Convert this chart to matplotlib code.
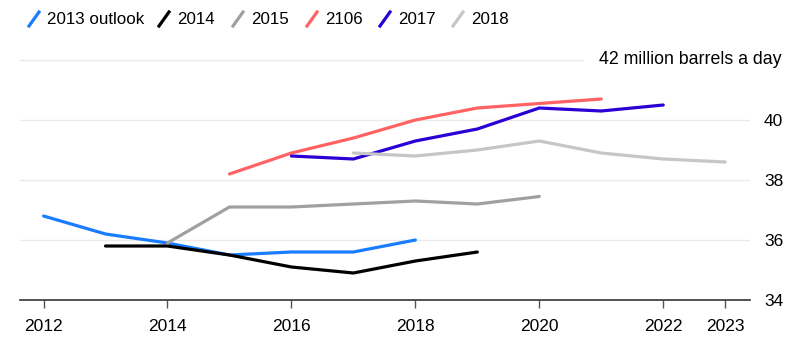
import matplotlib.pyplot as plt
from matplotlib.lines import Line2D

plt.rcParams['font.family'] = ['Liberation Sans', 'DejaVu Sans']

# forecast vintages (million barrels a day)
years_2013 = [2012, 2013, 2014, 2015, 2016, 2017, 2018]
vals_2013 = [36.8, 36.2, 35.9, 35.5, 35.6, 35.6, 36.0]

years_2014 = [2013, 2014, 2015, 2016, 2017, 2018, 2019]
vals_2014 = [35.8, 35.8, 35.5, 35.1, 34.9, 35.3, 35.6]

years_2015 = [2014, 2015, 2016, 2017, 2018, 2019, 2020]
vals_2015 = [35.9, 37.1, 37.1, 37.2, 37.3, 37.2, 37.45]

years_2016 = [2015, 2016, 2017, 2018, 2019, 2020, 2021]
vals_2016 = [38.2, 38.9, 39.4, 40.0, 40.4, 40.55, 40.7]

years_2017 = [2016, 2017, 2018, 2019, 2020, 2021, 2022]
vals_2017 = [38.8, 38.7, 39.3, 39.7, 40.4, 40.3, 40.5]

years_2018 = [2017, 2018, 2019, 2020, 2021, 2022, 2023]
vals_2018 = [38.9, 38.8, 39.0, 39.3, 38.9, 38.7, 38.6]

labels = ['2013 outlook', '2014', '2015', '2106', '2017', '2018']
colors = ['#1a7dff', '#000000', '#a0a0a0', '#ff6363', '#2a00d5', '#c6c6c6']
series = [(years_2013, vals_2013), (years_2014, vals_2014), (years_2015, vals_2015),
          (years_2016, vals_2016), (years_2017, vals_2017), (years_2018, vals_2018)]

xticks = [2012, 2014, 2016, 2018, 2020, 2022, 2023]
yticks = [34, 36, 38, 40]

fig = plt.figure(figsize=(8.07, 3.57), dpi=100)
ax = fig.add_axes([20 / 807, 1 - 300 / 357, 730 / 807, 240 / 357])

for (x, y), c in zip(series, colors):
    ax.plot(x, y, color=c, linewidth=2.3, solid_capstyle='round', zorder=3)

ax.set_xlim(2011.62, 2023.4)
ax.set_ylim(34, 42)

# gridlines
for v in [36, 38, 40]:
    ax.axhline(v, color='#ebebeb', linewidth=1, zorder=1)
ax.plot([2011.62, 2020.7], [42, 42], color='#ebebeb', linewidth=1, zorder=1, clip_on=False)

for s in ['top', 'right', 'left']:
    ax.spines[s].set_visible(False)
ax.spines['bottom'].set_color('#333333')
ax.spines['bottom'].set_linewidth(1.2)

ax.set_xticks(xticks)
ax.set_xticklabels([str(t) for t in xticks])
ax.tick_params(axis='x', length=6, width=1, color='#555555', pad=8, labelsize=12.5)

ax.yaxis.tick_right()
ax.set_yticks(yticks)
ax.set_yticklabels([str(t) for t in yticks])
ax.tick_params(axis='y', length=0, pad=10, labelsize=12.5)

ax.text(1.043, 42, '42 million barrels a day', transform=ax.get_yaxis_transform(),
        ha='right', va='center', fontsize=12.8)

# legend with slanted strokes
leg_x = [29, 159, 233, 307, 380, 453]
W, H = 807, 357
for lx, lab, c in zip(leg_x, labels, colors):
    fig.add_artist(Line2D([lx / W, (lx + 10) / W], [1 - 26 / H, 1 - 12 / H],
                          color=c, linewidth=2.3, transform=fig.transFigure))
    fig.text((lx + 18) / W, 1 - 19 / H, lab, ha='left', va='center', fontsize=12.2)

fig.savefig('out.png', dpi=100)
